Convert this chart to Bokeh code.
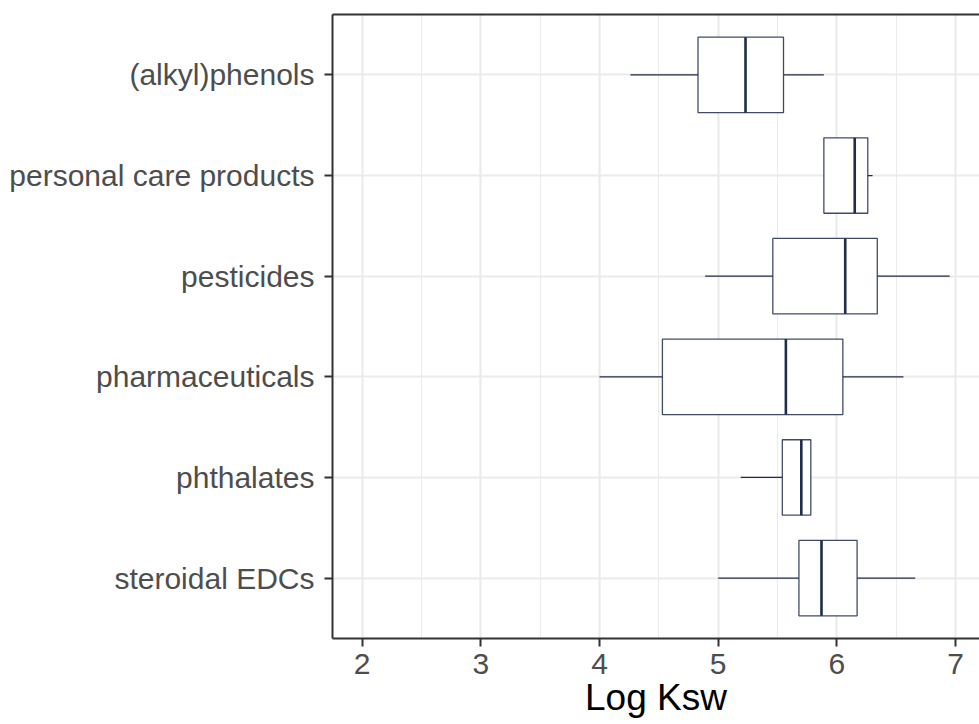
from bokeh.plotting import figure
from bokeh.models import ColumnDataSource, FactorRange, Range1d, FixedTicker, LinearAxis
from bokeh.transform import dodge
from bokeh.embed import file_html
from bokeh.resources import INLINE

categories = ["(alkyl)phenols", "personal care products", "pesticides",
              "pharmaceuticals", "phthalates", "steroidal EDCs"]
whisker_low = [4.26, 5.89, 4.89, 4.00, 5.19, 5.00]
q1 = [4.83, 5.89, 5.46, 4.53, 5.54, 5.68]
median = [5.23, 6.15, 6.07, 5.57, 5.70, 5.87]
q3 = [5.55, 6.26, 6.34, 6.05, 5.78, 6.17]
whisker_high = [5.89, 6.30, 6.95, 6.56, 5.78, 6.66]
x_ticks = [2, 3, 4, 5, 6, 7]
x_minor = [2.5, 3.5, 4.5, 5.5, 6.5]

FONT = "Liberation Sans"
LINE = "#1e2d4b"
GRID = "#ebebeb"
AX = "#333333"

src = ColumnDataSource(dict(cat=categories, lo=whisker_low, q1=q1, med=median,
                            q3=q3, hi=whisker_high))

y_range = FactorRange(factors=list(reversed(categories)),
                      range_padding=0.1, range_padding_units="absolute")

p = figure(width=979, height=724, y_range=y_range, x_range=Range1d(1.751, 7.201),
           output_backend="svg", toolbar_location=None,
           min_border_left=332, min_border_right=0, min_border_top=14,
           min_border_bottom=86, outline_line_color=None)

# whiskers
p.segment(x0="lo", x1="q1", y0="cat", y1="cat", source=src, line_color=LINE, line_width=1.3)
p.segment(x0="q3", x1="hi", y0="cat", y1="cat", source=src, line_color=LINE, line_width=1.3)
# boxes
p.hbar(y="cat", left="q1", right="q3", height=0.75, source=src,
       fill_color="white", line_color=LINE, line_width=1.3, line_alpha=0.85)
# medians
p.segment(x0="med", x1="med",
          y0=dodge("cat", -0.375, range=p.y_range),
          y1=dodge("cat", 0.375, range=p.y_range),
          source=src, line_color=LINE, line_width=2.6)

# grids
p.xgrid.ticker = FixedTicker(ticks=x_ticks, minor_ticks=x_minor)
p.xgrid.grid_line_color = GRID
p.xgrid.grid_line_width = 2.2
p.xgrid.minor_grid_line_color = GRID
p.xgrid.minor_grid_line_width = 1.1
p.ygrid.grid_line_color = GRID
p.ygrid.grid_line_width = 2.2
p.grid.level = "underlay"

# x axis
xa = p.xaxis[0]
xa.ticker = FixedTicker(ticks=x_ticks)
xa.axis_label = "Log Ksw"
xa.axis_label_text_font = FONT
xa.axis_label_text_font_size = "37px"
xa.axis_label_text_font_style = "normal"
xa.axis_label_text_color = "black"
xa.axis_label_standoff = 0
xa.major_label_text_font = FONT
xa.major_label_text_font_size = "30px"
xa.major_label_text_color = "#4d4d4d"
xa.major_label_standoff = 7
xa.axis_line_color = AX
xa.axis_line_width = 2
xa.major_tick_line_color = AX
xa.major_tick_line_width = 2
xa.major_tick_out = 8
xa.major_tick_in = 0
xa.minor_tick_out = 0
xa.minor_tick_in = 0

# y axis
ya = p.yaxis[0]
ya.major_label_text_font = FONT
ya.major_label_text_font_size = "30px"
ya.major_label_text_color = "#4d4d4d"
ya.major_label_standoff = 10
ya.axis_line_color = AX
ya.axis_line_width = 2
ya.major_tick_line_color = AX
ya.major_tick_line_width = 2
ya.major_tick_out = 8
ya.major_tick_in = 0

# top border line
top = LinearAxis(ticker=FixedTicker(ticks=[]), axis_line_color=AX, axis_line_width=2,
                 major_tick_out=0, major_tick_in=0, minor_tick_out=0, minor_tick_in=0,
                 major_label_text_font_size="0px", major_label_standoff=0)
p.add_layout(top, "above")

open("out.html", "w").write(file_html(p, INLINE))
